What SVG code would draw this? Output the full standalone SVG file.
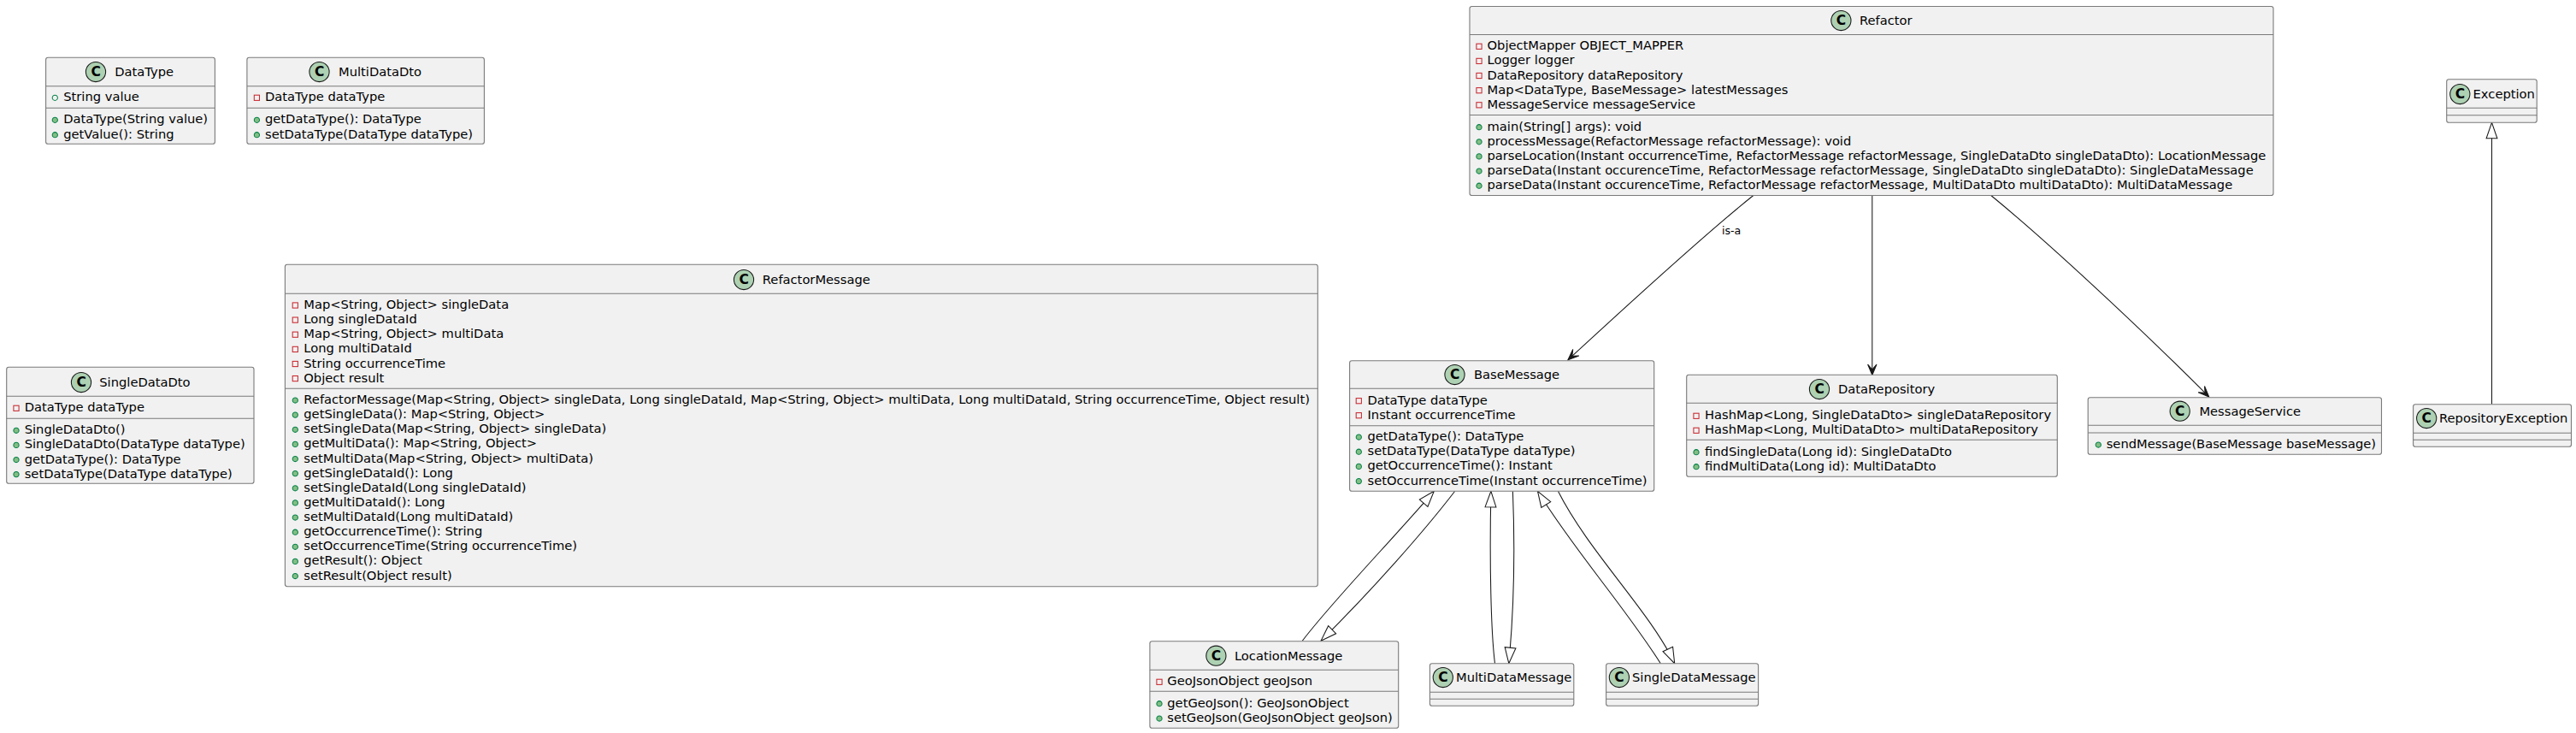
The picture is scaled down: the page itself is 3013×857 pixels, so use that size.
<svg xmlns="http://www.w3.org/2000/svg" width="3013" height="857" viewBox="0 0 3013 857">
<style>
text{font-family:"DejaVu Sans",sans-serif;font-size:14.7px;fill:#000}
.b{fill:#F1F1F1;stroke:#7a7a7a;stroke-width:1.1}
.s{stroke:#7a7a7a;stroke-width:1.1;fill:none}
.c{fill:none;stroke:#181818;stroke-width:1.05}
.h{marker-end:url(#hollow)}
.o{marker-end:url(#open)}
.l{font-size:12.6px}
</style>
<defs>
<marker id="hollow" markerUnits="userSpaceOnUse" viewBox="-21 -8 23 16" refX="0" refY="0" markerWidth="23" markerHeight="16" orient="auto"><path d="M0,0L-18.5,-6.4L-18.5,6.4Z" fill="#fff" stroke="#181818" stroke-width="1.05"/></marker>
<marker id="open" markerUnits="userSpaceOnUse" viewBox="-14 -7 16 14" refX="0" refY="0" markerWidth="16" markerHeight="14" orient="auto"><path d="M0,0L-12.5,-5.2L-6.5,0L-12.5,5.2Z" fill="#181818" stroke="#181818" stroke-width="1.05"/></marker>
<g id="spot"><circle r="11.6" fill="#ADD1B2" stroke="#181818" stroke-width="1.05"/><text x="-5.6" y="5.4" style="font-size:15.5px;font-weight:bold">C</text></g>
<rect id="pv" x="-3.1" y="-3.1" width="6.2" height="6.2" fill="none" stroke="#C82930" stroke-width="1.05"/>
<circle id="pm" r="3.1" fill="#84BE84" stroke="#038048" stroke-width="1.05"/>
<circle id="pf" r="3.1" fill="none" stroke="#038048" stroke-width="1.05"/>
</defs>
<rect width="3013" height="857" fill="#fff"/>
<g id="connectors">
<path class="c h" d="M1523.3,749.3C1555,707 1620,640 1677.3,574.3"/>
<path class="c h" d="M1701.7,574.3C1665,622 1605,690 1545,749.3"/>
<path class="c h" d="M1748.5,775.7C1744,740 1742,660 1743.9,574.3"/>
<path class="c h" d="M1769.4,574.3C1772,640 1771,710 1764.8,775.7"/>
<path class="c h" d="M1942.3,775.7C1898,706 1843,646 1798.5,574.3"/>
<path class="c h" d="M1822.4,574.3C1858,645 1930,715 1958.7,775.7"/>
<path class="c o" d="M2050.8,228.5C1985,281 1895,365 1834,420.7"/>
<text class="l" x="2014" y="274">is-a</text>
<path class="c o" d="M2189.8,228.5L2189.8,438.5"/>
<path class="c o" d="M2328.8,228.5C2410,295 2530,410 2583.7,464"/>
<path class="c h" d="M2914.5,472.7L2914.5,143.3"/>
</g>
<g id="DataType">
<rect class="b" x="53.6" y="67.3" width="197.8" height="101" rx="2.6"/>
<path class="s" d="M53.6,100.7H251.4M53.6,126.3H251.4"/>
<use href="#spot" x="112" y="84"/><text x="134.3" y="89">DataType</text>
<use href="#pf" x="64.3" y="114.3"/><text x="74.2" y="118.3">String value</text>
<use href="#pm" x="64.3" y="140.3"/><text x="74.2" y="144.3">DataType(String value)</text>
<use href="#pm" x="64.3" y="157.7"/><text x="74.2" y="161.7">getValue(): String</text>
</g>
<g id="MultiDataDto">
<rect class="b" x="288.9" y="67.3" width="277.5" height="101" rx="2.6"/>
<path class="s" d="M288.9,100.7H566.4M288.9,126.3H566.4"/>
<use href="#spot" x="373.5" y="84"/><text x="396" y="89">MultiDataDto</text>
<use href="#pv" x="300.4" y="114.3"/><text x="310" y="118.3">DataType dataType</text>
<use href="#pm" x="300.4" y="140.3"/><text x="310" y="144.3">getDataType(): DataType</text>
<use href="#pm" x="300.4" y="157.7"/><text x="310" y="161.7">setDataType(DataType dataType)</text>
</g>
<g id="SingleDataDto">
<rect class="b" x="7.7" y="429.3" width="289.3" height="136" rx="2.6"/>
<path class="s" d="M7.7,463.3H297M7.7,489.3H297"/>
<use href="#spot" x="95" y="447"/><text x="116.3" y="452.3">SingleDataDto</text>
<use href="#pv" x="19" y="477.3"/><text x="28.7" y="481.3">DataType dataType</text>
<use href="#pm" x="19" y="503.3"/><text x="28.7" y="507.3">SingleDataDto()</text>
<use href="#pm" x="19" y="520.4"/><text x="28.7" y="524.4">SingleDataDto(DataType dataType)</text>
<use href="#pm" x="19" y="537.5"/><text x="28.7" y="541.5">getDataType(): DataType</text>
<use href="#pm" x="19" y="554.6"/><text x="28.7" y="558.6">setDataType(DataType dataType)</text>
</g>
<g id="RefactorMessage">
<rect class="b" x="333.4" y="309.3" width="1207.9" height="376.4" rx="2.6"/>
<path class="s" d="M333.4,343.3H1541.3M333.4,454.3H1541.3"/>
<use href="#spot" x="870" y="327"/><text x="891.8" y="332">RefactorMessage</text>
<use href="#pv" x="345.3" y="357"/><text x="355.3" y="361">Map&lt;String, Object&gt; singleData</text>
<use href="#pv" x="345.3" y="374.1"/><text x="355.3" y="378.1">Long singleDataId</text>
<use href="#pv" x="345.3" y="391.2"/><text x="355.3" y="395.2">Map&lt;String, Object&gt; multiData</text>
<use href="#pv" x="345.3" y="408.4"/><text x="355.3" y="412.4">Long multiDataId</text>
<use href="#pv" x="345.3" y="425.5"/><text x="355.3" y="429.5">String occurrenceTime</text>
<use href="#pv" x="345.3" y="442.6"/><text x="355.3" y="446.6">Object result</text>
<use href="#pm" x="345.3" y="468"/><text x="355.3" y="472">RefactorMessage(Map&lt;String, Object&gt; singleData, Long singleDataId, Map&lt;String, Object&gt; multiData, Long multiDataId, String occurrenceTime, Object result)</text>
<use href="#pm" x="345.3" y="485.1"/><text x="355.3" y="489.1">getSingleData(): Map&lt;String, Object&gt;</text>
<use href="#pm" x="345.3" y="502.3"/><text x="355.3" y="506.3">setSingleData(Map&lt;String, Object&gt; singleData)</text>
<use href="#pm" x="345.3" y="519.4"/><text x="355.3" y="523.4">getMultiData(): Map&lt;String, Object&gt;</text>
<use href="#pm" x="345.3" y="536.5"/><text x="355.3" y="540.5">setMultiData(Map&lt;String, Object&gt; multiData)</text>
<use href="#pm" x="345.3" y="553.6"/><text x="355.3" y="557.6">getSingleDataId(): Long</text>
<use href="#pm" x="345.3" y="570.8"/><text x="355.3" y="574.8">setSingleDataId(Long singleDataId)</text>
<use href="#pm" x="345.3" y="587.9"/><text x="355.3" y="591.9">getMultiDataId(): Long</text>
<use href="#pm" x="345.3" y="605"/><text x="355.3" y="609">setMultiDataId(Long multiDataId)</text>
<use href="#pm" x="345.3" y="622.2"/><text x="355.3" y="626.2">getOccurrenceTime(): String</text>
<use href="#pm" x="345.3" y="639.3"/><text x="355.3" y="643.3">setOccurrenceTime(String occurrenceTime)</text>
<use href="#pm" x="345.3" y="656.4"/><text x="355.3" y="660.4">getResult(): Object</text>
<use href="#pm" x="345.3" y="673.5"/><text x="355.3" y="677.5">setResult(Object result)</text>
</g>
<g id="Refactor">
<rect class="b" x="1719" y="7.5" width="940" height="221" rx="2.6"/>
<path class="s" d="M1719,40.5H2659M1719,134.5H2659"/>
<use href="#spot" x="2153.4" y="24"/><text x="2175" y="29">Refactor</text>
<use href="#pv" x="1730" y="54.3"/><text x="1739.5" y="58.3">ObjectMapper OBJECT_MAPPER</text>
<use href="#pv" x="1730" y="71.4"/><text x="1739.5" y="75.4">Logger logger</text>
<use href="#pv" x="1730" y="88.5"/><text x="1739.5" y="92.5">DataRepository dataRepository</text>
<use href="#pv" x="1730" y="105.7"/><text x="1739.5" y="109.7">Map&lt;DataType, BaseMessage&gt; latestMessages</text>
<use href="#pv" x="1730" y="122.8"/><text x="1739.5" y="126.8">MessageService messageService</text>
<use href="#pm" x="1730" y="148.7"/><text x="1739.5" y="152.7">main(String[] args): void</text>
<use href="#pm" x="1730" y="165.8"/><text x="1739.5" y="169.8">processMessage(RefactorMessage refactorMessage): void</text>
<use href="#pm" x="1730" y="182.9"/><text x="1739.5" y="186.9">parseLocation(Instant occurrenceTime, RefactorMessage refactorMessage, SingleDataDto singleDataDto): LocationMessage</text>
<use href="#pm" x="1730" y="200"/><text x="1739.5" y="204">parseData(Instant occurenceTime, RefactorMessage refactorMessage, SingleDataDto singleDataDto): SingleDataMessage</text>
<use href="#pm" x="1730" y="217.2"/><text x="1739.5" y="221.2">parseData(Instant occurenceTime, RefactorMessage refactorMessage, MultiDataDto multiDataDto): MultiDataMessage</text>
</g>
<g id="BaseMessage">
<rect class="b" x="1578.6" y="421.7" width="356.1" height="152.6" rx="2.6"/>
<path class="s" d="M1578.6,454.3H1934.7M1578.6,497.7H1934.7"/>
<use href="#spot" x="1701.5" y="438"/><text x="1724" y="442.7">BaseMessage</text>
<use href="#pv" x="1589.3" y="468.7"/><text x="1599.5" y="472.7">DataType dataType</text>
<use href="#pv" x="1589.3" y="485.7"/><text x="1599.5" y="489.7">Instant occurrenceTime</text>
<use href="#pm" x="1589.3" y="511"/><text x="1599.5" y="515">getDataType(): DataType</text>
<use href="#pm" x="1589.3" y="528.2"/><text x="1599.5" y="532.2">setDataType(DataType dataType)</text>
<use href="#pm" x="1589.3" y="545.4"/><text x="1599.5" y="549.4">getOccurrenceTime(): Instant</text>
<use href="#pm" x="1589.3" y="562.6"/><text x="1599.5" y="566.6">setOccurrenceTime(Instant occurrenceTime)</text>
</g>
<g id="DataRepository">
<rect class="b" x="1972.7" y="438.3" width="433.6" height="119" rx="2.6"/>
<path class="s" d="M1972.7,471.3H2406.3M1972.7,514.3H2406.3"/>
<use href="#spot" x="2128" y="455"/><text x="2150" y="460.3">DataRepository</text>
<use href="#pv" x="1984" y="486.3"/><text x="1994" y="490.3">HashMap&lt;Long, SingleDataDto&gt; singleDataRepository</text>
<use href="#pv" x="1984" y="503.3"/><text x="1994" y="507.3">HashMap&lt;Long, MultiDataDto&gt; multiDataRepository</text>
<use href="#pm" x="1984" y="528.7"/><text x="1994" y="532.7">findSingleData(Long id): SingleDataDto</text>
<use href="#pm" x="1984" y="545.7"/><text x="1994" y="549.7">findMultiData(Long id): MultiDataDto</text>
</g>
<g id="MessageService">
<rect class="b" x="2442.2" y="464.7" width="343.3" height="66.6" rx="2.6"/>
<path class="s" d="M2442.2,497.3H2785.5M2442.2,506H2785.5"/>
<use href="#spot" x="2549.7" y="480.7"/><text x="2572.4" y="486">MessageService</text>
<use href="#pm" x="2454.3" y="520"/><text x="2463.7" y="524">sendMessage(BaseMessage baseMessage)</text>
</g>
<g id="Exception">
<rect class="b" x="2861.7" y="92.7" width="105.5" height="50.6" rx="2.6"/>
<path class="s" d="M2861.7,126.3H2967.2M2861.7,134.7H2967.2"/>
<use href="#spot" x="2877.3" y="110"/><text x="2892.6" y="115">Exception</text>
</g>
<g id="RepositoryException">
<rect class="b" x="2822.6" y="472.7" width="184.9" height="49.6" rx="2.6"/>
<path class="s" d="M2822.6,506.3H3007.5M2822.6,514.3H3007.5"/>
<use href="#spot" x="2838.2" y="489"/><text x="2853" y="494">RepositoryException</text>
</g>
<g id="LocationMessage">
<rect class="b" x="1344.9" y="749.7" width="290.8" height="101.6" rx="2.6"/>
<path class="s" d="M1344.9,783.3H1635.7M1344.9,808.3H1635.7"/>
<use href="#spot" x="1422.4" y="766.7"/><text x="1443.9" y="771.7">LocationMessage</text>
<use href="#pv" x="1356" y="797.3"/><text x="1365.3" y="801.3">GeoJsonObject geoJson</text>
<use href="#pm" x="1356" y="822.7"/><text x="1365.3" y="826.7">getGeoJson(): GeoJsonObject</text>
<use href="#pm" x="1356" y="840"/><text x="1365.3" y="844">setGeoJson(GeoJsonObject geoJson)</text>
</g>
<g id="MultiDataMessage">
<rect class="b" x="1672.4" y="775.7" width="168.4" height="49.6" rx="2.6"/>
<path class="s" d="M1672.4,809.3H1840.8M1672.4,817.3H1840.8"/>
<use href="#spot" x="1687.8" y="792"/><text x="1703" y="797">MultiDataMessage</text>
</g>
<g id="SingleDataMessage">
<rect class="b" x="1878.6" y="775.7" width="178" height="49.6" rx="2.6"/>
<path class="s" d="M1878.6,809.3H2056.6M1878.6,817.3H2056.6"/>
<use href="#spot" x="1893.9" y="792"/><text x="1909" y="797">SingleDataMessage</text>
</g>
</svg>
